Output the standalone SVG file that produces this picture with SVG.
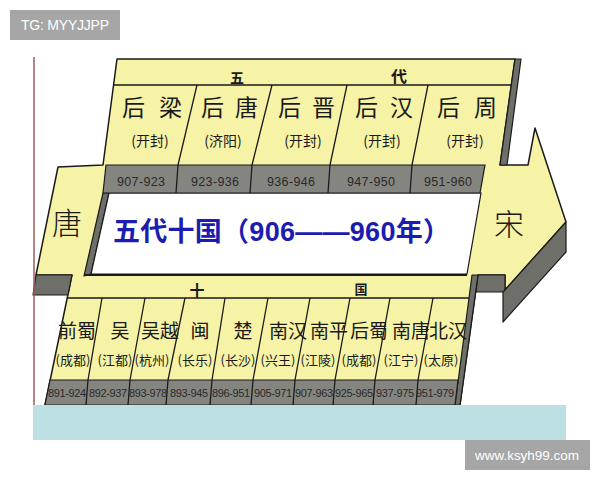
<svg xmlns="http://www.w3.org/2000/svg" width="600" height="480" viewBox="0 0 600 480">
<style>
.y{fill:#f6f2a6;stroke:#1a1a1a;stroke-width:1.5;stroke-linejoin:round}
.g{fill:#6f6f6a;stroke:#1a1a1a;stroke-width:1.2;stroke-linejoin:round}
.yr{fill:#858580;stroke:#1a1a1a;stroke-width:1.2}
.ln{stroke:#1a1a1a;stroke-width:1.3;fill:none}
.nm{font-family:"Noto Sans CJK SC",sans-serif;fill:#1a1a1a}
.mid{text-anchor:middle}
.cap{font-family:"Noto Sans CJK SC",sans-serif;font-size:13px;fill:#1a1a1a;text-anchor:middle}
.yt{font-family:"Liberation Sans",sans-serif;fill:#2a2a2a;text-anchor:middle}
.wm{font-family:"Liberation Sans","DejaVu Sans",sans-serif;fill:#ffffff}
</style>
<rect x="0" y="0" width="600" height="480" fill="#ffffff"/>

<g id="arrow">
<path class="y" d="M117,59 L515,59 L500,165 L528,165 L535,128 L566,222 L505,290 L505,275 L478,275 L460,405 L45,405 L72,275 L36,275 L58,167 L103,165 Z"/>
<path class="g" d="M515,59 L521,59 L507,165 L500,165 Z"/>
<path class="g" d="M36,275 L72,275 L68,295 L33,295 Z"/>
<path class="g" d="M478,275 L505,275 L505,292 L476,292 Z"/>
<path class="g" d="M566,222 L566,252 L503,322 L503,292 L505,290 Z"/>
<path class="g" d="M472,275 L478,275 L460,405 L455,405 Z"/>
<path class="g" d="M103,193 L109,193 L91,274 L84,276 Z"/>
<path d="M109,193 L481,193 L467,274 L91,274 Z" fill="#ffffff" stroke="#1a1a1a" stroke-width="1.2"/>
<line x1="84" y1="275" x2="467" y2="275" stroke="#1a1a1a" stroke-width="2"/>
<text class="nm mid" x="67" y="234" font-size="30" font-weight="300">唐</text>
<text class="nm mid" x="509" y="235" font-size="30" font-weight="300">宋</text>
<text x="113" y="241" font-size="27" font-weight="bold" fill="#1c1cb0" font-family="'Liberation Sans','Noto Sans CJK SC',sans-serif" textLength="337" lengthAdjust="spacing">五代十国（906——960年）</text>
</g>

<g id="five-dynasties">
<path class="yr" d="M106,165 L485,165 L480,193 L103,193 Z"/>
<path class="ln" d="M113.6,85 L511,85 M197,85 L178,165 M272,85 L252,165 M347,85 L330,165 M428,85 L412,165 M178,165 L176,193 M252,165 L250,193 M330,165 L328,193 M412,165 L410,193"/>
<text class="nm mid" x="237" y="83" font-size="14" font-weight="bold">五</text>
<text class="nm mid" x="399" y="82" font-size="16" font-weight="bold">代</text>
<g class="nm" font-size="23">
<text x="122 159" y="116">后梁</text>
<text x="201 235" y="116">后唐</text>
<text x="278 312" y="116">后晋</text>
<text x="355 390" y="116">后汉</text>
<text x="437 474" y="116">后周</text>
</g>
<g class="cap">
<text x="150" y="146" style="font-size:14px">(开封)</text>
<text x="223" y="146" style="font-size:14px">(济阳)</text>
<text x="303" y="146" style="font-size:14px">(开封)</text>
<text x="382" y="146" style="font-size:14px">(开封)</text>
<text x="465" y="146" style="font-size:14px">(开封)</text>
</g>
<g class="yt" font-size="12.5">
<text x="141" y="186" textLength="48">907-923</text>
<text x="215" y="186" textLength="48">923-936</text>
<text x="291" y="186" textLength="48">936-946</text>
<text x="371" y="186" textLength="48">947-950</text>
<text x="448" y="186" textLength="48">951-960</text>
</g>
</g>

<g id="ten-kingdoms">
<path class="yr" d="M50,380 L458,380 L455,405 L45,405 Z"/>
<path class="ln" d="M67,298 L469,298 M102,298 L88,380 M145,298 L130,380 M185,298 L168,380 M225,298 L212,380 M268,298 L253,380 M310,298 L295,380 M350,298 L335,380 M390,298 L375,380 M433,298 L418,380 M88,380 L86,405 M130,380 L128,405 M168,380 L166,405 M212,380 L210,405 M253,380 L251,405 M295,380 L293,405 M335,380 L333,405 M375,380 L373,405 M418,380 L416,405"/>
<text class="nm mid" x="197" y="296" font-size="15" font-weight="bold">十</text>
<text class="nm mid" x="361" y="294" font-size="13" font-weight="bold">国</text>
<g class="nm mid" font-size="19">
<text x="77" y="338">前蜀</text>
<text x="120" y="338">吴</text>
<text x="160" y="338">吴越</text>
<text x="200" y="338">闽</text>
<text x="243" y="338">楚</text>
<text x="288" y="338">南汉</text>
<text x="329" y="338">南平</text>
<text x="369" y="338">后蜀</text>
<text x="411" y="338">南唐</text>
<text x="448" y="338">北汉</text>
</g>
<g class="cap">
<text x="73" y="365">(成都)</text>
<text x="115" y="365">(江都)</text>
<text x="152" y="365">(杭州)</text>
<text x="195" y="365">(长乐)</text>
<text x="238" y="365">(长沙)</text>
<text x="278" y="365">(兴王)</text>
<text x="318" y="365">(江陵)</text>
<text x="359" y="365">(成都)</text>
<text x="401" y="365">(江宁)</text>
<text x="441" y="365">(太原)</text>
</g>
<g class="yt" font-size="11">
<text x="67" y="397" textLength="38">891-924</text>
<text x="108" y="397" textLength="38">892-937</text>
<text x="148" y="397" textLength="38">893-978</text>
<text x="189" y="397" textLength="38">893-945</text>
<text x="231" y="397" textLength="38">896-951</text>
<text x="273" y="397" textLength="38">905-971</text>
<text x="314" y="397" textLength="38">907-963</text>
<text x="354" y="397" textLength="38">925-965</text>
<text x="395" y="397" textLength="38">937-975</text>
<text x="435" y="397" textLength="38">951-979</text>
</g>
</g>

<rect x="33" y="405" width="533" height="35" fill="#bde0e4"/>
<line x1="34" y1="57" x2="34" y2="405" stroke="#9c5b5b" stroke-width="1.5"/>

<g id="watermark-top">
<rect x="10" y="10" width="110" height="30" fill="#a6a6a6"/>
<text class="wm" x="21" y="30" font-size="14" textLength="88">TG: MYYJJPP</text>
</g>
<g id="watermark-bottom">
<rect x="465" y="440" width="125" height="30" fill="#a6a6a6"/>
<text class="wm" x="475" y="460" font-size="13.5" textLength="104">www.ksyh99.com</text>
</g>
</svg>
